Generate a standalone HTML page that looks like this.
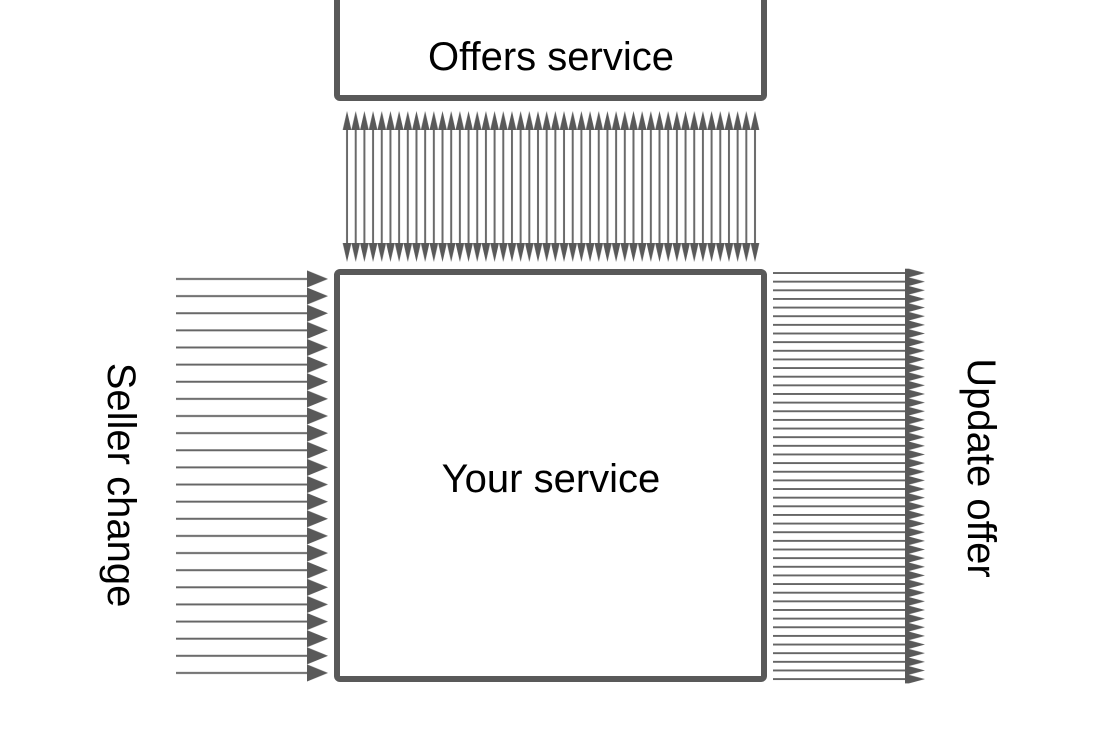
<!DOCTYPE html>
<html><head><meta charset="utf-8"><style>
html,body{margin:0;padding:0;background:#fff;}
svg{display:block;}
text{font-family:"Liberation Sans",Arial,sans-serif;font-size:40px;fill:#000;}
</style></head><body>
<svg width="1098" height="734" viewBox="0 0 1098 734" xmlns="http://www.w3.org/2000/svg">
<defs>
<pattern id="pt" patternUnits="userSpaceOnUse" x="342.7" y="111" width="8.68" height="151">
<line x1="4.34" y1="17" x2="4.34" y2="134" stroke="#6a6a6a" stroke-width="2"/>
<polygon points="0,19 4.34,0 8.68,19" fill="#595959"/>
<polygon points="0,132 4.34,151 8.68,132" fill="#595959"/>
</pattern>
<pattern id="pl" patternUnits="userSpaceOnUse" x="176" y="270.4" width="154" height="17.13">
<line x1="0" y1="8.56" x2="134" y2="8.56" stroke="#666" stroke-width="2"/>
<polygon points="131,0 152,8.56 131,17.13" fill="#595959"/>
</pattern>
<pattern id="pr" patternUnits="userSpaceOnUse" x="773" y="268.7" width="154" height="8.64">
<line x1="0" y1="4.32" x2="134" y2="4.32" stroke="#666" stroke-width="2"/>
<polygon points="132,-1 152,4.32 132,9.64" fill="#595959"/>
</pattern>
</defs>
<rect x="342.7" y="111" width="416.6" height="151" fill="url(#pt)"/>
<rect x="176" y="270.4" width="154" height="411.1" fill="url(#pl)"/>
<rect x="773" y="268.7" width="154" height="414.7" fill="url(#pr)"/>
<rect x="337" y="-20" width="427" height="118" rx="3" fill="none" stroke="#595959" stroke-width="6"/>
<rect x="337" y="272" width="427" height="407" rx="3" fill="none" stroke="#595959" stroke-width="6"/>
<text x="551" y="70" text-anchor="middle">Offers service</text>
<text x="551" y="492" text-anchor="middle">Your service</text>
<text transform="translate(108,485) rotate(90)" text-anchor="middle">Seller change</text>
<text transform="translate(968,468) rotate(90)" text-anchor="middle">Update offer</text>
</svg>
</body></html>
